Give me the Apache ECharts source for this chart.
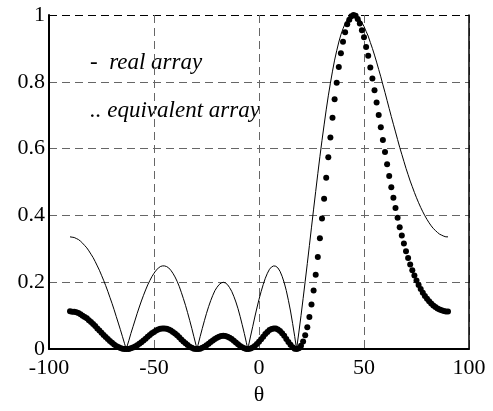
<!DOCTYPE html>
<html>
<head>
    <meta charset="utf-8">
    <title>array pattern</title>
    <style>
        html, body { margin: 0; padding: 0; background: #fff; }
        #main { width: 493px; height: 411px; }
    </style>
</head>
<body>
<div id="main"></div>
<script src="https://cdn.jsdelivr.net/npm/echarts@6/dist/echarts.min.js"></script>
<script type="text/javascript">
    // angle grid, -90 .. 90 in 1 degree steps
    var thetaStart = -90;
    var thetaStep = 1;

    // real array (thin line)
    var realArray = [
        0.336, 0.335, 0.334, 0.331, 0.328, 0.323, 0.317, 0.310, 0.303, 0.294,
        0.284, 0.274, 0.262, 0.249, 0.236, 0.221, 0.206, 0.190, 0.173, 0.155,
        0.137, 0.118, 0.098, 0.078, 0.058, 0.037, 0.016, 0.005, 0.025, 0.047,
        0.067, 0.087, 0.107, 0.126, 0.144, 0.161, 0.177, 0.192, 0.205, 0.217,
        0.227, 0.236, 0.242, 0.247, 0.249, 0.249, 0.247, 0.243, 0.236, 0.227,
        0.216, 0.203, 0.188, 0.170, 0.151, 0.131, 0.109, 0.086, 0.062, 0.037,
        0.012, 0.013, 0.038, 0.062, 0.085, 0.107, 0.127, 0.145, 0.161, 0.175,
        0.185, 0.193, 0.198, 0.200, 0.198, 0.193, 0.184, 0.173, 0.158, 0.141,
        0.121, 0.098, 0.073, 0.047, 0.019, 0.010, 0.039, 0.067, 0.096, 0.123,
        0.149, 0.172, 0.193, 0.212, 0.227, 0.239, 0.246, 0.249, 0.248, 0.243,
        0.233, 0.218, 0.199, 0.175, 0.146, 0.114, 0.077, 0.038, 0.005, 0.051,
        0.100, 0.151, 0.203, 0.256, 0.310, 0.365, 0.419, 0.472, 0.525, 0.576,
        0.625, 0.671, 0.716, 0.758, 0.796, 0.832, 0.865, 0.893, 0.919, 0.941,
        0.959, 0.974, 0.986, 0.993, 0.998, 1.000, 0.999, 0.994, 0.987, 0.977,
        0.966, 0.951, 0.937, 0.918, 0.900, 0.880, 0.859, 0.837, 0.815, 0.791,
        0.768, 0.744, 0.720, 0.696, 0.673, 0.650, 0.627, 0.604, 0.583, 0.562,
        0.541, 0.522, 0.503, 0.486, 0.469, 0.453, 0.438, 0.424, 0.411, 0.399,
        0.388, 0.378, 0.369, 0.361, 0.355, 0.349, 0.344, 0.341, 0.338, 0.336,
        0.336
    ];
    // where the real array touches zero
    var realZeroTheta = [-63.25, -29.53, -5.33, 17.89];

    // equivalent array (dots)
    var equivArray = [
        0.113, 0.112, 0.112, 0.110, 0.108, 0.104, 0.100, 0.096, 0.092, 0.086,
        0.081, 0.075, 0.069, 0.062, 0.056, 0.049, 0.042, 0.036, 0.030, 0.024,
        0.019, 0.014, 0.0096, 0.0061, 0.0034, 0.0014, 0.0003, 0.0000, 0.0006, 0.0022,
        0.0045, 0.0076, 0.0114, 0.0159, 0.0207, 0.0259, 0.0313, 0.0369, 0.0420, 0.0471,
        0.0515, 0.0557, 0.0586, 0.0610, 0.0620, 0.0620, 0.0610, 0.0590, 0.0557, 0.0515,
        0.0467, 0.0412, 0.0353, 0.0289, 0.0228, 0.0172, 0.0119, 0.0074, 0.0038, 0.0014,
        0.0001, 0.0002, 0.0014, 0.0038, 0.0072, 0.0114, 0.0161, 0.0210, 0.0259, 0.0306,
        0.0342, 0.0372, 0.0392, 0.0400, 0.0392, 0.0372, 0.0339, 0.0299, 0.0250, 0.0199,
        0.0146, 0.0096, 0.0053, 0.0022, 0.0004, 0.0001, 0.0015, 0.0045, 0.0092, 0.0151,
        0.0222, 0.0296, 0.0372, 0.0449, 0.0515, 0.0571, 0.0605, 0.0620, 0.0615, 0.0590,
        0.0543, 0.0475, 0.0396, 0.0306, 0.0213, 0.0130, 0.0059, 0.0014, 0.0000, 0.0026,
        0.0100, 0.0228, 0.0412, 0.0655, 0.0961, 0.1332, 0.1756, 0.2228, 0.2756, 0.3318,
        0.3906, 0.4502, 0.5127, 0.5746, 0.6336, 0.6922, 0.7482, 0.7974, 0.8446, 0.8855,
        0.9197, 0.9487, 0.9722, 0.9860, 0.9960, 1.0000, 0.9980, 0.9880, 0.9742, 0.9545,
        0.9332, 0.9044, 0.8780, 0.8427, 0.8100, 0.7744, 0.7379, 0.7006, 0.6642, 0.6257,
        0.5898, 0.5535, 0.5184, 0.4844, 0.4529, 0.4225, 0.3931, 0.3648, 0.3399, 0.3158,
        0.2927, 0.2725, 0.2530, 0.2362, 0.2200, 0.2052, 0.1918, 0.1798, 0.1689, 0.1592,
        0.1505, 0.1429, 0.1362, 0.1303, 0.1260, 0.1218, 0.1183, 0.1163, 0.1142, 0.1129,
        0.1129
    ];

    var legendLines = ['-  real array', '.. equivalent array'];

    // build [theta, value] pairs
    var realData = realArray.map(function (v, i) { return [thetaStart + i * thetaStep, v]; });
    realZeroTheta.forEach(function (t) { realData.push([t, 0]); });
    realData.sort(function (a, b) { return a[0] - b[0]; });
    var equivData = equivArray.map(function (v, i) { return [thetaStart + i * thetaStep, v]; });

    var serif = 'Liberation Serif';
    var myChart = echarts.init(document.getElementById('main'));
    var option = {
        backgroundColor: '#fff',
        animation: false,
        grid: { left: 49, right: 24, top: 15, bottom: 58 },
        graphic: [
            {
                type: 'text', left: 90, top: 51,
                style: { text: legendLines[0], font: 'italic 23px "Liberation Serif"', fill: '#000' }
            },
            {
                type: 'text', left: 90, top: 99,
                style: { text: legendLines[1], font: 'italic 23px "Liberation Serif"', fill: '#000' }
            }
        ],
        xAxis: {
            type: 'value', min: -100, max: 100, interval: 50,
            name: 'θ', nameLocation: 'middle', nameGap: 32,
            nameTextStyle: { fontFamily: serif, fontSize: 22, color: '#000' },
            axisLine: { show: true, onZero: false, lineStyle: { color: '#000', width: 2 } },
            axisTick: { show: false },
            axisLabel: { margin: 8, fontFamily: serif, fontSize: 22, color: '#000' },
            splitLine: { show: true, lineStyle: { color: '#666', width: 1, type: [8, 5] } }
        },
        yAxis: [
            {
                type: 'value', min: 0, max: 1, interval: 0.2,
                axisLine: { show: true, onZero: false, lineStyle: { color: '#000', width: 2 } },
                axisTick: { show: false },
                axisLabel: { margin: 4, fontFamily: serif, fontSize: 22, color: '#000' },
                splitLine: {
                    show: true,
                    lineStyle: { color: ['#000', '#666', '#666', '#666', '#666', '#000'], width: 1, type: [8, 5] }
                }
            },
            {
                type: 'value', min: 0, max: 1, position: 'right',
                axisLine: { show: true, onZero: false, lineStyle: { color: '#000', width: 1.5 } },
                axisTick: { show: false },
                axisLabel: { show: false },
                splitLine: { show: false }
            }
        ],
        series: [
            {
                name: 'real array',
                type: 'line',
                data: realData,
                showSymbol: false,
                symbol: 'none',
                lineStyle: { color: '#000', width: 1 }
            },
            {
                name: 'equivalent array',
                type: 'scatter',
                data: equivData,
                symbol: 'circle',
                symbolSize: 6,
                itemStyle: { color: '#000', opacity: 1 }
            }
        ]
    };
    myChart.setOption(option);
</script>
</body>
</html>
